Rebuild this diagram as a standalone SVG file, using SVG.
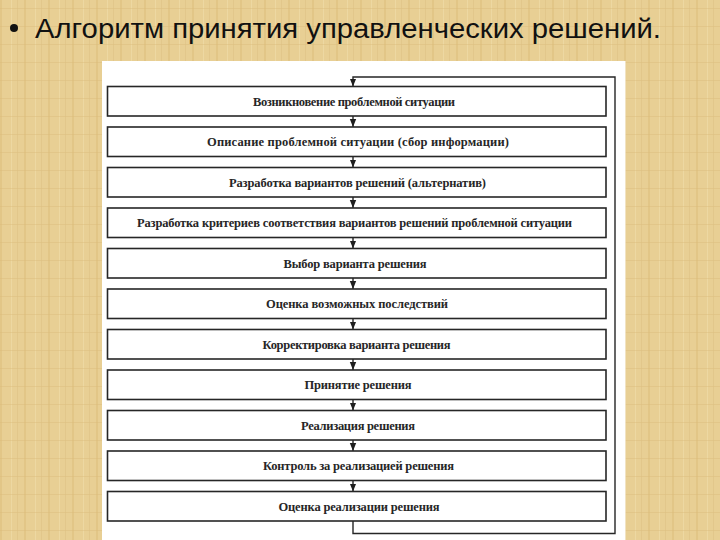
<svg xmlns="http://www.w3.org/2000/svg" width="720" height="540" viewBox="0 0 720 540">
  <defs>
    <pattern id="parch" width="24" height="18" patternUnits="userSpaceOnUse">
      <rect width="24" height="18" fill="#E8CF94"/>
      <rect x="0" y="0" width="2" height="18" fill="#DDBF7E" opacity="0.6"/>
      <rect x="11" y="0" width="1" height="18" fill="#F0DCA8" opacity="0.7"/>
      <rect x="0" y="8" width="24" height="1" fill="#D9BA78" opacity="0.4"/>
      <rect x="17" y="0" width="1" height="18" fill="#DCC082" opacity="0.5"/>
    </pattern>
    <marker id="arr" viewBox="0 0 8 8" refX="8" refY="4" markerWidth="8" markerHeight="8" markerUnits="userSpaceOnUse" orient="auto">
      <path d="M0,0.8 L8,4 L0,7.2 Z" fill="#1e1e1e"/>
    </marker>
    <style>
      .box { fill: #ffffff; stroke: #262626; stroke-width: 1.6; }
      .lbl { font-family: "Liberation Serif", "DejaVu Serif", serif; font-size: 12.5px; font-weight: bold; fill: #262626; text-anchor: middle; }
      .con { fill: none; stroke: #262626; stroke-width: 1.4; }
      .title { font-family: "Liberation Sans", "Noto Sans", sans-serif; font-size: 27px; fill: #111111; }
    </style>
  </defs>

  <rect width="720" height="540" fill="url(#parch)"/>
  <rect x="102" y="61" width="523.5" height="479" fill="#ffffff"/>

  <g id="title">
    <circle cx="14" cy="28" r="4" fill="#111111"/>
    <text class="title" x="35" y="38" textLength="626" lengthAdjust="spacingAndGlyphs">Алгоритм принятия управленческих решений.</text>
  </g>

  <g id="connectors">
    <path class="con" d="M353,116 V127" marker-end="url(#arr)"/>
    <path class="con" d="M353,156.5 V167.5" marker-end="url(#arr)"/>
    <path class="con" d="M353,197 V208" marker-end="url(#arr)"/>
    <path class="con" d="M353,237.5 V248.5" marker-end="url(#arr)"/>
    <path class="con" d="M353,278 V289" marker-end="url(#arr)"/>
    <path class="con" d="M353,318.5 V329.5" marker-end="url(#arr)"/>
    <path class="con" d="M353,359 V370" marker-end="url(#arr)"/>
    <path class="con" d="M353,399.5 V410.5" marker-end="url(#arr)"/>
    <path class="con" d="M353,440 V451" marker-end="url(#arr)"/>
    <path class="con" d="M353,480.5 V491.5" marker-end="url(#arr)"/>
    <path class="con" d="M353,521 V533.5 H615 V77 H353 V86.5" marker-end="url(#arr)"/>
  </g>

  <g id="n1"><rect class="box" x="107.5" y="86.5" width="498.5" height="29.5"/><text class="lbl" x="354" y="105.5" textLength="202">Возникновение проблемной ситуации</text></g>
  <g id="n2"><rect class="box" x="107.5" y="127" width="498.5" height="29.5"/><text class="lbl" x="358" y="146" textLength="302">Описание проблемной ситуации (сбор информации)</text></g>
  <g id="n3"><rect class="box" x="107.5" y="167.5" width="498.5" height="29.5"/><text class="lbl" x="357.5" y="186.5" textLength="257">Разработка вариантов решений (альтернатив)</text></g>
  <g id="n4"><rect class="box" x="107.5" y="208" width="498.5" height="29.5"/><text class="lbl" x="354.5" y="227" textLength="435">Разработка критериев соответствия вариантов решений проблемной ситуации</text></g>
  <g id="n5"><rect class="box" x="107.5" y="248.5" width="498.5" height="29.5"/><text class="lbl" x="355" y="267.5" textLength="143">Выбор варианта решения</text></g>
  <g id="n6"><rect class="box" x="107.5" y="289" width="498.5" height="29.5"/><text class="lbl" x="357" y="308" textLength="182">Оценка возможных последствий</text></g>
  <g id="n7"><rect class="box" x="107.5" y="329.5" width="498.5" height="29.5"/><text class="lbl" x="356.5" y="348.5" textLength="188">Корректировка варианта решения</text></g>
  <g id="n8"><rect class="box" x="107.5" y="370" width="498.5" height="29.5"/><text class="lbl" x="358" y="389" textLength="107">Принятие решения</text></g>
  <g id="n9"><rect class="box" x="107.5" y="410.5" width="498.5" height="29.5"/><text class="lbl" x="358" y="429.5" textLength="114">Реализация решения</text></g>
  <g id="n10"><rect class="box" x="107.5" y="451" width="498.5" height="29.5"/><text class="lbl" x="358.5" y="470" textLength="191">Контроль за реализацией решения</text></g>
  <g id="n11"><rect class="box" x="107.5" y="491.5" width="498.5" height="29.5"/><text class="lbl" x="359" y="510.5" textLength="161">Оценка реализации решения</text></g>
</svg>
